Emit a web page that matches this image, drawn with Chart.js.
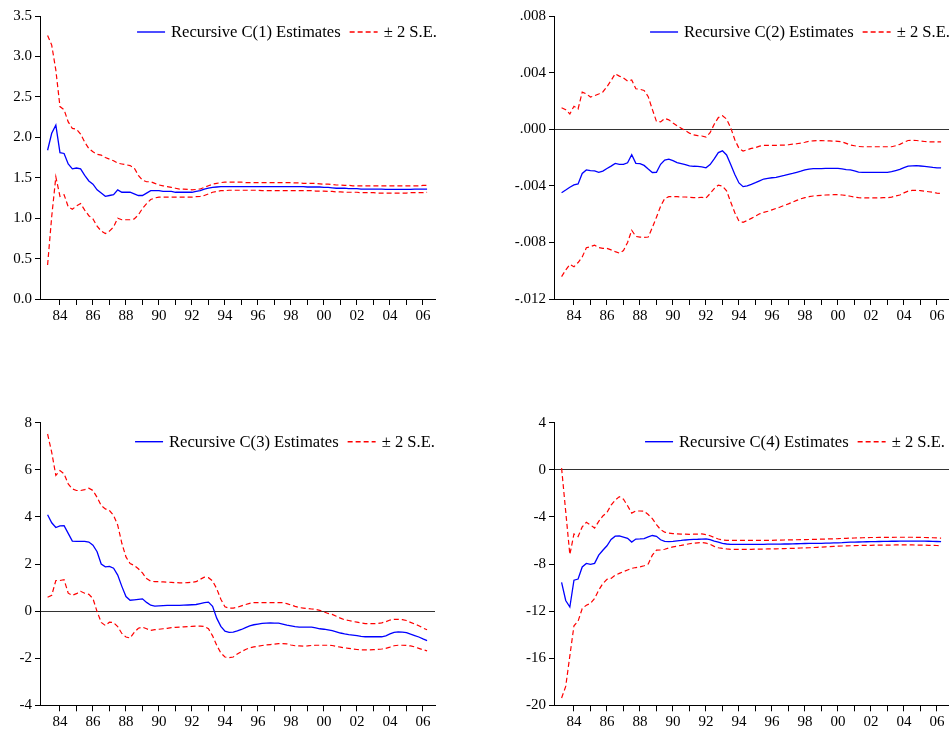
<!DOCTYPE html>
<html><head><meta charset="utf-8">
<script src="https://cdn.jsdelivr.net/npm/chart.js@4.4.1/dist/chart.umd.min.js"></script>
<style>
html,body{margin:0;padding:0;background:#fff;}
body{width:949px;height:730px;position:relative;overflow:hidden;}
.p{position:absolute;}
</style></head><body>
<canvas id="c1" class="p" style="left:0;top:0" width="475" height="330"></canvas>
<canvas id="c2" class="p" style="left:475px;top:0" width="474" height="330"></canvas>
<canvas id="c3" class="p" style="left:0;top:400px" width="475" height="330"></canvas>
<canvas id="c4" class="p" style="left:475px;top:400px" width="474" height="330"></canvas>
<script>
// ---------- data ----------
const quarters = [
"1983Q2","1983Q3","1983Q4",
"1984Q1","1984Q2","1984Q3","1984Q4","1985Q1","1985Q2","1985Q3","1985Q4",
"1986Q1","1986Q2","1986Q3","1986Q4","1987Q1","1987Q2","1987Q3","1987Q4",
"1988Q1","1988Q2","1988Q3","1988Q4","1989Q1","1989Q2","1989Q3","1989Q4",
"1990Q1","1990Q2","1990Q3","1990Q4","1991Q1","1991Q2","1991Q3","1991Q4",
"1992Q1","1992Q2","1992Q3","1992Q4","1993Q1","1993Q2","1993Q3","1993Q4",
"1994Q1","1994Q2","1994Q3","1994Q4","1995Q1","1995Q2","1995Q3","1995Q4",
"1996Q1","1996Q2","1996Q3","1996Q4","1997Q1","1997Q2","1997Q3","1997Q4",
"1998Q1","1998Q2","1998Q3","1998Q4","1999Q1","1999Q2","1999Q3","1999Q4",
"2000Q1","2000Q2","2000Q3","2000Q4","2001Q1","2001Q2","2001Q3","2001Q4",
"2002Q1","2002Q2","2002Q3","2002Q4","2003Q1","2003Q2","2003Q3","2003Q4",
"2004Q1","2004Q2","2004Q3","2004Q4","2005Q1","2005Q2","2005Q3","2005Q4",
"2006Q1","2006Q2"];

const yearTicks = [1984,1985,1986,1987,1988,1989,1990,1991,1992,1993,1994,1995,
  1996,1997,1998,1999,2000,2001,2002,2003,2004,2005,2006];

const estLabels = ["Recursive C(1) Estimates","Recursive C(2) Estimates",
  "Recursive C(3) Estimates","Recursive C(4) Estimates"];
const seLabel = "\u00B1 2 S.E.";

// C(1)
const c1 = [1.84,2.05,2.15,1.81,1.80,1.67,1.61,1.62,1.61,1.53,
1.46,1.42,1.35,1.31,1.27,1.28,1.29,1.35,1.32,1.32,
1.32,1.30,1.28,1.28,1.31,1.34,1.34,1.34,1.33,1.33,
1.33,1.32,1.32,1.32,1.32,1.32,1.33,1.34,1.36,1.37,
1.38,1.385,1.39,1.39,1.39,1.39,1.39,1.39,1.39,1.39,
1.39,1.39,1.39,1.39,1.39,1.39,1.39,1.39,1.39,1.39,
1.39,1.39,1.39,1.385,1.385,1.385,1.385,1.38,1.38,1.375,
1.37,1.37,1.37,1.365,1.365,1.365,1.36,1.36,1.36,1.36,
1.36,1.36,1.355,1.355,1.355,1.355,1.355,1.355,1.355,1.36,
1.36,1.36,1.36];
const u1 = [3.26,3.14,2.83,2.38,2.34,2.19,2.11,2.10,2.04,1.94,
1.86,1.82,1.79,1.78,1.75,1.73,1.71,1.68,1.67,1.66,
1.65,1.62,1.53,1.47,1.45,1.45,1.43,1.41,1.40,1.39,
1.38,1.37,1.36,1.36,1.355,1.35,1.355,1.36,1.38,1.40,
1.42,1.43,1.44,1.445,1.445,1.445,1.445,1.445,1.44,1.44,
1.44,1.44,1.44,1.44,1.44,1.44,1.44,1.44,1.44,1.44,
1.435,1.435,1.43,1.43,1.43,1.43,1.425,1.42,1.42,1.415,
1.41,1.41,1.405,1.405,1.40,1.40,1.40,1.40,1.40,1.40,
1.40,1.40,1.40,1.40,1.40,1.40,1.40,1.40,1.40,1.40,
1.40,1.405,1.405];
const l1 = [0.42,1.02,1.51,1.27,1.29,1.14,1.11,1.15,1.18,1.10,
1.03,0.99,0.90,0.84,0.81,0.84,0.89,1.00,0.98,0.98,
0.98,0.99,1.04,1.12,1.18,1.23,1.25,1.26,1.26,1.26,
1.26,1.26,1.26,1.26,1.26,1.26,1.265,1.27,1.28,1.30,
1.32,1.33,1.34,1.34,1.345,1.345,1.345,1.345,1.345,1.345,
1.345,1.345,1.34,1.34,1.34,1.34,1.34,1.34,1.34,1.34,
1.34,1.34,1.34,1.34,1.34,1.335,1.335,1.335,1.33,1.33,
1.325,1.325,1.32,1.32,1.32,1.32,1.315,1.315,1.315,1.315,
1.31,1.31,1.31,1.31,1.31,1.31,1.31,1.31,1.315,1.315,
1.315,1.315,1.32];

// C(2)
const c2 = [-0.00449,-0.00430,-0.00410,-0.00394,-0.00387,-0.00313,-0.00288,-0.00293,-0.00295,-0.00305,
-0.00296,-0.00278,-0.00261,-0.00242,-0.00248,-0.00248,-0.00237,-0.00180,-0.00241,-0.00243,
-0.00256,-0.00282,-0.00306,-0.00305,-0.00248,-0.00218,-0.00211,-0.00222,-0.00236,-0.00243,
-0.00250,-0.00259,-0.00262,-0.00263,-0.00266,-0.00273,-0.00250,-0.00210,-0.00165,-0.00153,
-0.00182,-0.00250,-0.00320,-0.00380,-0.00406,-0.00400,-0.00390,-0.00378,-0.00365,-0.00352,
-0.00347,-0.00343,-0.00340,-0.00333,-0.00327,-0.00320,-0.00313,-0.00305,-0.00297,-0.00288,
-0.00282,-0.00279,-0.00278,-0.00278,-0.00277,-0.00277,-0.00277,-0.00277,-0.00280,-0.00285,
-0.00288,-0.00295,-0.00303,-0.00305,-0.00305,-0.00305,-0.00305,-0.00305,-0.00305,-0.00305,
-0.00300,-0.00292,-0.00284,-0.00272,-0.00261,-0.00259,-0.00258,-0.00260,-0.00262,-0.00266,
-0.00270,-0.00273,-0.00274];
const u2 = [0.00152,0.00138,0.00108,0.00162,0.00143,0.00262,0.00250,0.00227,0.00237,0.00249,
0.00263,0.00300,0.00344,0.00392,0.00375,0.00362,0.00340,0.00348,0.00286,0.00282,
0.00274,0.00230,0.00140,0.00055,0.00052,0.00076,0.00066,0.00044,0.00024,0.00007,
-0.00010,-0.00028,-0.00040,-0.00046,-0.00048,-0.00056,-0.00025,0.00035,0.00082,0.00095,
0.00072,0.00010,-0.00075,-0.00135,-0.00154,-0.00145,-0.00136,-0.00130,-0.00120,-0.00115,
-0.00115,-0.00114,-0.00114,-0.00113,-0.00112,-0.00110,-0.00106,-0.00103,-0.00098,-0.00092,
-0.00085,-0.00082,-0.00081,-0.00081,-0.00082,-0.00083,-0.00084,-0.00086,-0.00090,-0.00100,
-0.00112,-0.00117,-0.00122,-0.00124,-0.00124,-0.00124,-0.00124,-0.00124,-0.00124,-0.00124,
-0.00124,-0.00117,-0.00107,-0.00092,-0.00080,-0.00079,-0.00080,-0.00083,-0.00087,-0.00090,
-0.00090,-0.00090,-0.00090];
const l2 = [-0.01042,-0.00995,-0.00956,-0.00972,-0.00942,-0.00903,-0.00838,-0.00830,-0.00820,-0.00836,
-0.00842,-0.00842,-0.00853,-0.00865,-0.00876,-0.00858,-0.00800,-0.00714,-0.00758,-0.00763,
-0.00764,-0.00762,-0.00695,-0.00622,-0.00545,-0.00490,-0.00477,-0.00477,-0.00477,-0.00479,
-0.00479,-0.00481,-0.00484,-0.00484,-0.00481,-0.00487,-0.00455,-0.00420,-0.00395,-0.00402,
-0.00435,-0.00515,-0.00590,-0.00650,-0.00658,-0.00645,-0.00630,-0.00615,-0.00598,-0.00588,
-0.00580,-0.00570,-0.00560,-0.00550,-0.00538,-0.00528,-0.00515,-0.00503,-0.00492,-0.00484,
-0.00477,-0.00472,-0.00470,-0.00467,-0.00465,-0.00464,-0.00463,-0.00463,-0.00465,-0.00468,
-0.00474,-0.00480,-0.00484,-0.00485,-0.00486,-0.00486,-0.00486,-0.00485,-0.00484,-0.00484,
-0.00480,-0.00472,-0.00465,-0.00450,-0.00438,-0.00433,-0.00432,-0.00434,-0.00438,-0.00442,
-0.00446,-0.00452,-0.00455];

// C(3)
const c3 = [4.09,3.75,3.55,3.62,3.63,3.30,2.97,2.96,2.96,2.96,
2.93,2.80,2.52,2.00,1.88,1.90,1.82,1.53,1.05,0.62,
0.46,0.48,0.50,0.52,0.37,0.25,0.21,0.22,0.23,0.24,
0.24,0.24,0.24,0.25,0.26,0.27,0.28,0.32,0.36,0.38,
0.20,-0.30,-0.65,-0.85,-0.90,-0.89,-0.84,-0.78,-0.70,-0.63,
-0.58,-0.55,-0.52,-0.51,-0.50,-0.51,-0.51,-0.55,-0.60,-0.63,
-0.66,-0.68,-0.68,-0.68,-0.68,-0.71,-0.75,-0.77,-0.80,-0.83,
-0.88,-0.93,-0.97,-1.00,-1.02,-1.04,-1.07,-1.09,-1.09,-1.09,
-1.09,-1.09,-1.05,-0.97,-0.90,-0.88,-0.89,-0.91,-0.98,-1.04,
-1.10,-1.18,-1.25];
const u3 = [7.52,6.74,5.76,5.97,5.83,5.40,5.19,5.12,5.12,5.16,
5.22,5.12,4.83,4.48,4.34,4.27,4.06,3.65,2.88,2.30,
2.02,1.94,1.80,1.62,1.38,1.27,1.25,1.25,1.24,1.23,
1.22,1.21,1.20,1.20,1.21,1.22,1.25,1.35,1.44,1.42,
1.28,0.95,0.50,0.18,0.12,0.13,0.16,0.22,0.28,0.33,
0.36,0.36,0.36,0.36,0.36,0.36,0.36,0.36,0.32,0.26,
0.20,0.15,0.13,0.11,0.09,0.07,0.03,-0.03,-0.10,-0.14,
-0.22,-0.30,-0.37,-0.40,-0.44,-0.47,-0.50,-0.53,-0.53,-0.53,
-0.53,-0.50,-0.45,-0.38,-0.35,-0.35,-0.36,-0.40,-0.48,-0.55,
-0.62,-0.72,-0.79];
const l3 = [0.59,0.67,1.30,1.30,1.33,0.76,0.67,0.74,0.84,0.76,
0.71,0.53,-0.02,-0.48,-0.61,-0.47,-0.49,-0.66,-0.95,-1.10,
-1.14,-0.90,-0.73,-0.68,-0.75,-0.82,-0.79,-0.77,-0.75,-0.73,
-0.70,-0.69,-0.68,-0.67,-0.66,-0.65,-0.64,-0.64,-0.65,-0.75,
-1.05,-1.45,-1.78,-1.95,-1.98,-1.95,-1.82,-1.72,-1.63,-1.56,
-1.52,-1.49,-1.46,-1.44,-1.42,-1.40,-1.38,-1.38,-1.39,-1.44,
-1.47,-1.48,-1.49,-1.48,-1.46,-1.45,-1.45,-1.45,-1.45,-1.46,
-1.50,-1.53,-1.56,-1.58,-1.61,-1.63,-1.65,-1.65,-1.65,-1.64,
-1.63,-1.61,-1.58,-1.53,-1.47,-1.45,-1.45,-1.46,-1.48,-1.52,
-1.58,-1.64,-1.69];

// C(4)
const c4 = [-9.56,-11.10,-11.65,-9.38,-9.28,-8.25,-7.95,-8.03,-7.95,-7.25,
-6.83,-6.45,-5.92,-5.64,-5.62,-5.72,-5.82,-6.14,-5.88,-5.87,
-5.85,-5.70,-5.58,-5.65,-5.94,-6.08,-6.10,-6.07,-6.03,-6.00,
-5.96,-5.93,-5.91,-5.90,-5.88,-5.87,-5.93,-6.05,-6.15,-6.25,
-6.30,-6.33,-6.33,-6.33,-6.33,-6.33,-6.33,-6.33,-6.33,-6.33,
-6.32,-6.32,-6.31,-6.31,-6.30,-6.30,-6.29,-6.28,-6.27,-6.26,
-6.25,-6.25,-6.24,-6.24,-6.23,-6.22,-6.21,-6.20,-6.19,-6.17,
-6.15,-6.14,-6.13,-6.12,-6.11,-6.10,-6.10,-6.09,-6.08,-6.08,
-6.07,-6.07,-6.06,-6.06,-6.05,-6.05,-6.05,-6.06,-6.06,-6.07,
-6.08,-6.09,-6.10];
const u4 = [0.14,-3.55,-7.20,-5.45,-5.67,-4.85,-4.45,-4.68,-4.95,-4.38,
-3.92,-3.62,-3.00,-2.57,-2.28,-2.50,-3.05,-3.68,-3.50,-3.50,
-3.52,-3.80,-4.15,-4.65,-5.08,-5.30,-5.38,-5.42,-5.45,-5.46,
-5.47,-5.48,-5.47,-5.46,-5.45,-5.50,-5.60,-5.75,-5.88,-5.95,
-6.00,-6.00,-6.00,-6.00,-6.00,-6.00,-6.00,-6.00,-6.00,-6.00,
-6.00,-5.99,-5.98,-5.97,-5.96,-5.95,-5.95,-5.94,-5.93,-5.93,
-5.92,-5.91,-5.90,-5.89,-5.88,-5.87,-5.86,-5.85,-5.83,-5.82,
-5.80,-5.79,-5.78,-5.77,-5.76,-5.75,-5.75,-5.74,-5.74,-5.74,
-5.74,-5.73,-5.73,-5.73,-5.73,-5.73,-5.74,-5.74,-5.75,-5.76,
-5.77,-5.79,-5.80];
const l4 = [-19.38,-18.40,-15.80,-13.25,-12.85,-11.78,-11.50,-11.35,-10.93,-10.22,
-9.66,-9.30,-9.22,-8.95,-8.80,-8.65,-8.51,-8.37,-8.30,-8.25,
-8.15,-8.00,-7.25,-6.82,-6.81,-6.75,-6.63,-6.55,-6.48,-6.42,
-6.35,-6.28,-6.23,-6.20,-6.18,-6.22,-6.33,-6.50,-6.62,-6.68,
-6.72,-6.75,-6.75,-6.75,-6.75,-6.75,-6.75,-6.74,-6.74,-6.73,
-6.72,-6.72,-6.71,-6.70,-6.69,-6.68,-6.67,-6.66,-6.64,-6.63,
-6.62,-6.60,-6.58,-6.56,-6.54,-6.52,-6.50,-6.48,-6.47,-6.46,
-6.45,-6.44,-6.43,-6.42,-6.41,-6.41,-6.40,-6.40,-6.39,-6.39,
-6.39,-6.38,-6.38,-6.38,-6.38,-6.38,-6.39,-6.39,-6.40,-6.41,
-6.42,-6.43,-6.44];

const yTicks1 = [0,0.5,1,1.5,2,2.5,3,3.5];
const yTicks2 = [-0.012,-0.008,-0.004,0,0.004,0.008];
const yTicks3 = [-4,-2,0,2,4,6,8];
const yTicks4 = [-20,-16,-12,-8,-4,0,4];

// ---------- rendering ----------
const dateNums = quarters.map(q => +q.slice(0,4) + (+q.slice(5) - 1) / 4);
const FONT = '"Liberation Serif", "Times New Roman", serif';
const X_MIN = 1982.79, X_MAX = 2006.73;

const insideLegend = {
  id: 'insideLegend',
  afterDraw(chart, args, opts) {
    const ctx = chart.ctx, a = chart.chartArea, ds = chart.data.datasets;
    ctx.save();
    ctx.font = '16.6px ' + FONT;
    ctx.textBaseline = 'middle';
    const t1 = ds[0].label, t2 = ds[1].label;
    const w1 = ctx.measureText(t1).width, w2 = ctx.measureText(t2).width;
    const L = 28, g1 = 6, g2 = 9;
    const total = L + g1 + w1 + g2 + L + g1 + w2;
    let x = a.right + opts.dx - total;
    const y = a.top + opts.dy;
    ctx.strokeStyle = ds[0].borderColor; ctx.lineWidth = 1.4;
    ctx.beginPath(); ctx.moveTo(x, y); ctx.lineTo(x + L, y); ctx.stroke();
    x += L + g1;
    ctx.fillStyle = '#000'; ctx.fillText(t1, x, y + 1);
    x += w1 + g2;
    ctx.strokeStyle = ds[1].borderColor; ctx.setLineDash(ds[1].borderDash);
    ctx.beginPath(); ctx.moveTo(x, y); ctx.lineTo(x + L, y); ctx.stroke();
    ctx.setLineDash([]);
    x += L + g1;
    ctx.fillText(t2, x, y + 1);
    ctx.restore();
  }
};

function makeChart(id, p) {
  new Chart(document.getElementById(id), {
    type: 'line',
    data: {
      labels: dateNums,
      datasets: [
        {label: p.estLabel, data: p.est, borderColor: '#0000ff', borderWidth: 1.3,
         pointRadius: 0, tension: 0, fill: false},
        {label: seLabel, data: p.upper, borderColor: '#ff0000', borderWidth: 1.2,
         borderDash: [5, 3], pointRadius: 0, tension: 0, fill: false},
        {label: seLabel, data: p.lower, borderColor: '#ff0000', borderWidth: 1.2,
         borderDash: [5, 3], pointRadius: 0, tension: 0, fill: false}
      ]
    },
    plugins: [insideLegend],
    options: {
      responsive: false, animation: false, events: [],
      layout: {padding: {left: 0, top: p.padTop, right: p.padRight, bottom: 0}},
      plugins: {legend: {display: false}, tooltip: {enabled: false},
        insideLegend: {dx: p.legDx, dy: p.legDy}},
      scales: {
        x: {
          type: 'linear', min: X_MIN, max: X_MAX,
          afterBuildTicks: s => { s.ticks = yearTicks.map(v => ({value: v})); },
          afterFit: s => { s.height = p.xh; },
          ticks: {autoSkip: false, maxRotation: 0, padding: 2, color: '#000',
            font: {family: FONT, size: 15},
            callback: v => (Math.round(v) % 2 === 0 ? String(Math.round(v)).slice(2) : '')},
          grid: {drawOnChartArea: false, tickLength: 6, color: '#000', tickColor: '#000', lineWidth: 1},
          border: {display: true, color: '#000', width: 1}
        },
        y: {
          type: 'linear', min: p.yTicks[0], max: p.yTicks[p.yTicks.length - 1],
          afterBuildTicks: s => { s.ticks = p.yTicks.map(v => ({value: v})); },
          afterFit: s => { s.width = p.yw; },
          ticks: {padding: 3, color: '#000', font: {family: FONT, size: 15}, callback: p.fmt},
          grid: {drawOnChartArea: true, tickLength: 5, tickColor: '#000', lineWidth: 1,
            color: c => (c.tick && Math.abs(c.tick.value) < 1e-12 ? '#333' : 'rgba(0,0,0,0)')},
          border: {display: true, color: '#000', width: 1}
        }
      }
    }
  });
}

const fmt1 = v => v.toFixed(1);
const fmt2 = v => (v < -1e-12 ? '-' : '') + Math.abs(v).toFixed(3).replace(/^0/, '');
const fmtInt = v => String(Math.round(v));

makeChart('c1', {estLabel: estLabels[0], est: c1, upper: u1, lower: l1, yTicks: yTicks1, fmt: fmt1,
  padTop: 16, padRight: 40, xh: 31, yw: 40, legDx: 2, legDy: 16});
makeChart('c2', {estLabel: estLabels[1], est: c2, upper: u2, lower: l2, yTicks: yTicks2, fmt: fmt2,
  padTop: 16, padRight: 0, xh: 31, yw: 79, legDx: 1, legDy: 16});
makeChart('c3', {estLabel: estLabels[2], est: c3, upper: u3, lower: l3, yTicks: yTicks3, fmt: fmtInt,
  padTop: 22.7, padRight: 40, xh: 24.7, yw: 40, legDx: 0, legDy: 19});
makeChart('c4', {estLabel: estLabels[3], est: c4, upper: u4, lower: l4, yTicks: yTicks4, fmt: fmtInt,
  padTop: 22.7, padRight: 0, xh: 24.7, yw: 79, legDx: -4, legDy: 19});
</script>
</body></html>
